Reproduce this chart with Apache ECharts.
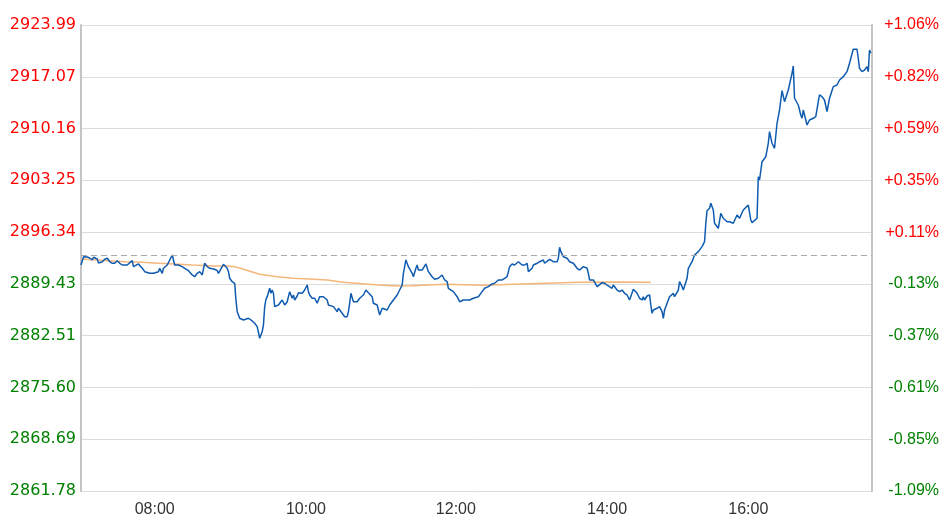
<!DOCTYPE html>
<html>
<head>
<meta charset="utf-8">
<script src="https://cdn.jsdelivr.net/npm/echarts@6/dist/echarts.min.js"></script>
<style>
html,body{margin:0;padding:0;background:#fff;}
#chart{width:946px;height:528px;}
</style>
</head>
<body>
<div id="chart"></div>
<script>
// minute index of session, last price
const priceSeries = [
[0,2891.95],[2,2893.06],[5,2893.02],[7,2892.89],[9,2892.62],[10,2892.98],[13,2892.75],[14,2892.22],[17,2892.39],[19,2892.71],
[21,2892.85],[23,2892.39],[25,2892.18],[26,2892.39],[27,2892.18],[29,2892.53],[31,2892.18],[33,2891.95],[37,2891.95],[38,2891.86],
[41,2892.53],[42,2891.73],[46,2892.09],[47,2892.26],[49,2891.51],[51,2891.06],[55,2890.84],[58,2890.84],[62,2891.06],[63,2891.51],
[65,2890.84],[66,2891.51],[69,2891.95],[71,2892.62],[73,2893.29],[74,2893.22],[75,2891.95],[78,2891.95],[81,2891.73],[83,2891.51],
[86,2891.19],[89,2890.62],[91,2890.39],[93,2890.84],[94,2890.62],[95,2891.06],[97,2890.62],[98,2890.84],[99,2892.18],[101,2891.73],
[103,2891.51],[107,2891.38],[109,2891.19],[110,2890.84],[113,2891.73],[114,2892.05],[117,2891.51],[118,2891.06],[119,2890.18],[121,2889.72],
[123,2889.51],[124,2887.28],[125,2885.72],[126,2885.28],[127,2884.84],[130,2884.61],[131,2884.38],[134,2884.84],[137,2884.48],[139,2884.17],
[141,2883.72],[142,2883.50],[143,2882.17],[145,2883.05],[146,2883.94],[147,2886.39],[148,2887.37],[149,2887.72],[151,2888.84],[152,2888.17],
[153,2888.61],[154,2888.17],[155,2886.39],[158,2886.61],[159,2886.84],[161,2887.28],[163,2886.61],[165,2887.05],[166,2887.72],[167,2888.39],
[169,2887.51],[170,2887.95],[171,2887.28],[173,2887.81],[174,2888.25],[177,2888.17],[179,2888.61],[181,2889.28],[182,2888.39],[183,2887.95],
[185,2887.51],[187,2887.51],[189,2886.84],[190,2887.28],[191,2887.72],[194,2887.72],[197,2887.28],[198,2886.61],[199,2886.39],[202,2886.39],
[203,2886.17],[205,2885.72],[206,2886.17],[209,2885.50],[210,2885.28],[211,2885.05],[213,2885.05],[214,2885.72],[215,2886.84],[216,2888.17],
[217,2887.95],[218,2887.05],[221,2887.05],[223,2887.51],[226,2887.95],[228,2888.61],[230,2888.25],[233,2887.72],[234,2886.84],[237,2886.61],
[238,2885.94],[239,2885.28],[241,2886.17],[242,2886.39],[245,2885.94],[247,2886.61],[250,2887.28],[253,2887.95],[255,2888.61],[257,2889.28],
[258,2890.84],[259,2891.73],[260,2892.62],[262,2891.73],[265,2890.84],[266,2890.39],[268,2891.51],[269,2891.95],[270,2891.28],[273,2891.28],
[276,2892.09],[278,2891.06],[281,2890.39],[283,2890.04],[286,2890.18],[289,2890.62],[291,2889.95],[293,2889.72],[294,2888.84],[295,2889.06],
[298,2888.39],[301,2887.72],[303,2887.05],[306,2887.28],[309,2887.28],[311,2887.28],[314,2887.51],[315,2887.72],[318,2887.72],[321,2888.39],
[323,2888.84],[326,2889.06],[329,2889.42],[331,2889.51],[334,2889.95],[337,2889.95],[339,2890.18],[341,2890.39],[342,2891.06],[343,2891.73],
[345,2892.09],[347,2891.95],[350,2892.39],[353,2891.95],[355,2891.95],[357,2892.18],[358,2891.06],[361,2891.51],[362,2891.95],[365,2892.18],
[367,2892.39],[370,2892.62],[371,2892.18],[375,2892.71],[378,2892.39],[381,2892.39],[382,2892.85],[383,2894.31],[384,2893.73],[386,2893.06],
[389,2892.85],[391,2892.39],[394,2892.18],[395,2892.18],[397,2891.51],[399,2891.28],[402,2891.73],[405,2891.51],[406,2890.84],[407,2889.95],
[410,2889.95],[413,2889.06],[414,2888.92],[417,2889.59],[419,2889.51],[421,2889.28],[422,2889.51],[425,2888.84],[426,2889.28],[429,2888.61],
[431,2888.39],[433,2888.61],[435,2888.17],[437,2887.95],[439,2887.28],[442,2888.71],[445,2888.17],[447,2887.51],[449,2887.28],[450,2887.72],
[451,2887.28],[453,2887.81],[455,2887.95],[456,2886.61],[457,2885.50],[458,2885.94],[461,2886.17],[463,2886.39],[465,2885.72],[466,2884.84],
[467,2885.94],[470,2887.28],[471,2887.72],[474,2888.17],[475,2887.72],[478,2888.61],[479,2889.72],[481,2889.06],[482,2888.61],[485,2890.18],
[486,2891.51],[487,2891.73],[489,2892.39],[491,2893.29],[494,2893.73],[497,2894.40],[499,2895.06],[500,2897.52],[501,2899.20],[503,2899.52],
[504,2900.19],[506,2899.29],[507,2897.52],[510,2896.85],[512,2898.85],[514,2898.19],[517,2897.73],[519,2897.73],[522,2897.52],[525,2898.63],
[527,2898.19],[530,2899.29],[531,2899.52],[534,2899.96],[536,2897.96],[537,2897.60],[541,2898.19],[542,2903.74],[543,2903.30],[545,2905.74],
[548,2906.41],[550,2908.20],[551,2909.75],[553,2908.20],[555,2907.53],[557,2910.87],[559,2912.64],[561,2915.22],[563,2913.75],[566,2915.31],
[569,2917.54],[570,2918.52],[571,2914.21],[574,2913.31],[576,2911.98],[577,2911.54],[578,2912.64],[581,2910.64],[583,2911.31],[586,2911.54],
[588,2911.75],[590,2913.75],[591,2914.65],[593,2914.42],[595,2913.98],[597,2912.42],[599,2914.21],[602,2915.76],[605,2915.98],[607,2916.65],
[610,2917.09],[613,2917.76],[615,2918.88],[618,2920.75],[621,2920.75],[622,2919.55],[623,2918.21],[625,2917.76],[627,2917.98],[629,2918.43],
[630,2917.76],[631,2920.65],[632,2920.21]
];
// minute index, average price
const avgSeries = [
[0,2892.75],[22,2892.53],[35,2892.39],[49,2892.31],[62,2892.18],[75,2892.09],[89,2891.95],[107,2891.82],[117,2891.82],[123,2891.73],
[130,2891.38],[143,2890.71],[157,2890.39],[170,2890.18],[183,2890.08],[197,2889.95],[210,2889.64],[215,2889.59],[238,2889.28],[254,2889.15],
[265,2889.19],[278,2889.28],[291,2889.38],[323,2889.24],[346,2889.38],[373,2889.51],[399,2889.64],[431,2889.68],[456,2889.64]
];
const prevClose = 2893.2;
const timeLabels = ['08:00','10:00','12:00','14:00','16:00'];
const timeLabelIdx = [59,180,300,421,534];
const priceLabels = ['2861.78','2868.69','2875.60','2882.51','2889.43','2896.34','2903.25','2910.16','2917.07','2923.99'];
const pctLabels = ['-1.09%','-0.85%','-0.61%','-0.37%','-0.13%','+0.11%','+0.35%','+0.59%','+0.82%','+1.06%'];
const yMin = 2861.78, yMax = 2923.99;
const yStep = (yMax - yMin) / 9;
const sessionLen = 633;

const chart = echarts.init(document.getElementById('chart'));
const FONT = '"Liberation Sans", Arial, sans-serif';
const FONT_LEFT = '"DejaVu Sans", Verdana, sans-serif';
function tickIndex(v){ return Math.round((v - yMin) / yStep); }
function tickColor(v){ return v > prevClose ? '#ff0000' : '#008000'; }
const yBase = {
  type: 'value', min: yMin, max: yMax, interval: yStep, scale: true,
  axisLine: {show: true, lineStyle: {color: '#c4c4c4', width: 2}},
  axisTick: {show: false},
  splitLine: {show: true, lineStyle: {color: '#dcdcdc', width: 1}}
};
chart.setOption({
  animation: false,
  backgroundColor: '#fff',
  grid: {left: 81, right: 74, top: 25, bottom: 37, containLabel: false},
  xAxis: {
    type: 'value', min: 0, max: sessionLen,
    axisLine: {show: false}, axisTick: {show: false}, splitLine: {show: false},
    axisLabel: {
      customValues: timeLabelIdx,
      formatter: function(v){ const k = timeLabelIdx.indexOf(Math.round(v)); return k >= 0 ? timeLabels[k] : ''; },
      color: '#333', fontSize: 16, fontFamily: FONT, margin: 11
    }
  },
  yAxis: [
    Object.assign({}, yBase, {
      position: 'left',
      axisLabel: {
        formatter: function(v){ return priceLabels[tickIndex(v)]; },
        color: function(v){ return tickColor(v); },
        fontSize: 16, fontFamily: FONT_LEFT, margin: 5
      }
    }),
    Object.assign({}, yBase, {
      position: 'right',
      splitLine: {show: false},
      axisLabel: {
        formatter: function(v){ return pctLabels[tickIndex(v)]; },
        color: function(v){ return tickColor(v); },
        fontSize: 16, fontFamily: FONT, margin: 67, align: 'right'
      }
    })
  ],
  series: [
    {
      type: 'line', data: avgSeries, showSymbol: false, symbol: 'none',
      lineStyle: {color: '#f5b67a', width: 1.5}, z: 2
    },
    {
      type: 'line', data: priceSeries, showSymbol: false, symbol: 'none',
      lineStyle: {color: '#0f5bb0', width: 1.5}, z: 3,
      markLine: {
        silent: true, symbol: 'none', label: {show: false},
        lineStyle: {color: '#a8a8a8', type: [6, 4], width: 1},
        data: [{yAxis: prevClose}]
      }
    }
  ]
});
</script>
</body>
</html>
